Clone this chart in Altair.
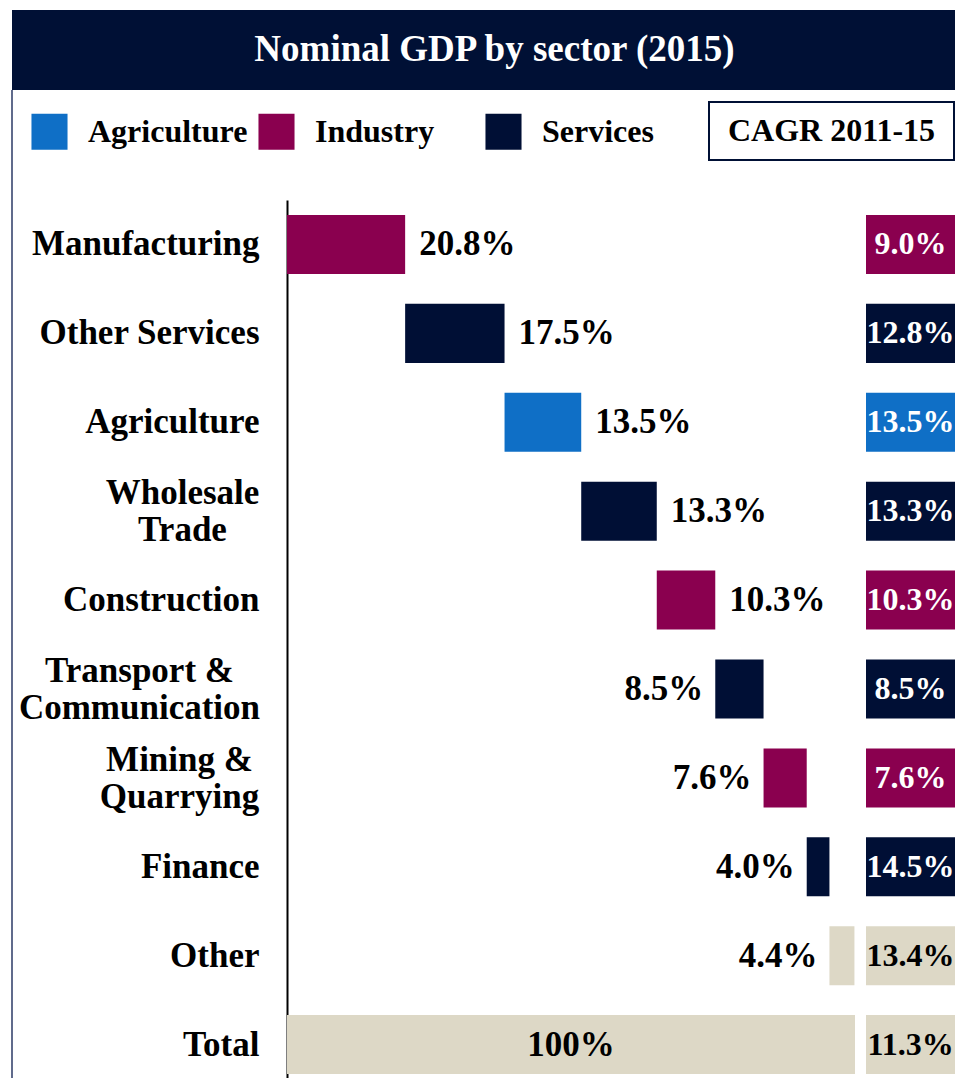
import altair as alt
import pandas as pd

# ---- data ----
sectors = ["Manufacturing", "Other Services", "Agriculture", "Wholesale Trade",
           "Construction", "Transport & Communication", "Mining & Quarrying",
           "Finance", "Other", "Total"]
groups = ["Industry", "Services", "Agriculture", "Services", "Industry",
          "Services", "Industry", "Services", "Other", "Other"]
share = [20.8, 17.5, 13.5, 13.3, 10.3, 8.5, 7.6, 4.0, 4.4, 100.0]
cagr = [9.0, 12.8, 13.5, 13.3, 10.3, 8.5, 7.6, 14.5, 13.4, 11.3]

legend_groups = ["Agriculture", "Industry", "Services"]
group_domain = ["Agriculture", "Industry", "Services", "Other"]
group_colors = ["#0F6FC6", "#8A004F", "#000F35", "#DDD8C6"]

title_text = "Nominal GDP by sector (2015)"
cagr_header = "CAGR 2011-15"

# ---- waterfall table ----
starts, ends = [], []
acc = 0.0
for s, v in zip(sectors, share):
    if s == "Total":
        starts.append(0.0)
        ends.append(v)
    else:
        starts.append(acc)
        acc += v
        ends.append(acc)

df = pd.DataFrame({"sector": sectors, "group": groups, "share": share,
                   "start": starts, "end": ends, "cagr": cagr})

FONT = "Liberation Serif"
NAVY = "#001035"
W, H = 568, 878

base = alt.Chart(df)

multi_test = "indexof(datum.value, '&') >= 0 || indexof(datum.value, 'Wholesale') >= 0"

y = alt.Y("sector:N", sort=sectors,
          scale=alt.Scale(domain=sectors, paddingInner=0.3363, paddingOuter=0.106, align=0.794),
          axis=alt.Axis(title=None, labelFont=FONT, labelFontWeight="bold", labelFontSize=35,
                        labelColor="black", ticks=False, grid=False,
                        domainColor="black", domainWidth=2, labelLimit=400, labelLineHeight=37,
                        labelOffset={"condition": {"test": multi_test, "value": -18}, "value": 0},
                        labelAlign={"condition": {"test": multi_test, "value": "center"}, "value": "right"},
                        labelPadding={"condition": [
                            {"test": "indexof(datum.value, 'Wholesale') >= 0", "value": 105},
                            {"test": "indexof(datum.value, 'Transport') >= 0", "value": 148},
                            {"test": "indexof(datum.value, 'Mining') >= 0", "value": 108},
                        ], "value": 28},
                        labelExpr="split(replace(datum.label, regexp('(&|Wholesale) '), '$1~'), '~')"))

xscale = alt.Scale(domain=[0, 100], nice=False, zero=False)

bars = base.mark_bar().encode(
    y=y,
    x=alt.X("start:Q", scale=xscale, axis=None),
    x2="end:Q",
    color=alt.Color("group:N", scale=alt.Scale(domain=group_domain, range=group_colors),
                    legend=alt.Legend(values=legend_groups, orient="none", legendX=-256, legendY=-87,
                                      direction="horizontal", title=None, symbolType="square",
                                      symbolSize=1300, symbolStrokeWidth=0, symbolOpacity=1,
                                      labelFont=FONT, labelFontSize=32, labelFontWeight="bold",
                                      labelColor="black", labelOffset=20, columnPadding=10,
                                      gridAlign="all", padding=0)),
)

labelled = base.transform_calculate(
    label="datum.sector == 'Total' ? '100%' : format(datum.share, '.1f') + '%'",
    mid="(datum.start + datum.end) / 2",
)

txt_style = dict(font=FONT, fontWeight="bold", fontSize=35, color="black", baseline="middle")

right_labels = labelled.transform_filter("datum.sector != 'Total' && datum.end <= 80").mark_text(
    align="left", dx=14, **txt_style).encode(
    y=alt.Y("sector:N", sort=sectors), x=alt.X("end:Q", scale=xscale), text="label:N")

left_labels = labelled.transform_filter("datum.sector != 'Total' && datum.end > 80").mark_text(
    align="right", dx=-12, **txt_style).encode(
    y=alt.Y("sector:N", sort=sectors), x=alt.X("start:Q", scale=xscale), text="label:N")

total_label = labelled.transform_filter("datum.sector == 'Total'").mark_text(
    align="center", **txt_style).encode(
    y=alt.Y("sector:N", sort=sectors), x=alt.X("mid:Q", scale=xscale), text="label:N")

# ---- CAGR column ----
cagr_boxes = base.mark_rect().encode(
    y=alt.Y("sector:N", sort=sectors),
    x=alt.value(579), x2=alt.value(668),
    color=alt.Color("group:N"),
)
cagr_text = base.transform_calculate(
    clab="format(datum.cagr, '.1f') + '%'").mark_text(
    font=FONT, fontWeight="bold", fontSize=32, align="center", baseline="middle").encode(
    y=alt.Y("sector:N", sort=sectors),
    x=alt.value(623.5),
    text="clab:N",
    color=alt.condition("datum.group == 'Other'", alt.value("black"), alt.value("white")),
)

# ---- header decorations ----
hdr = alt.Chart(pd.DataFrame({"t": [title_text], "c": [cagr_header]}))
title_bar = hdr.mark_rect(color=NAVY).encode(
    x=alt.value(-275), x2=alt.value(668), y=alt.value(-190), y2=alt.value(-110))
title_txt = hdr.mark_text(font=FONT, fontWeight="bold", fontSize=37, color="white",
                          align="center", baseline="middle").encode(
    x=alt.value(207.5), y=alt.value(-150), text="t:N")
cagr_box = hdr.mark_rect(fill="white", stroke=NAVY, strokeWidth=2).encode(
    x=alt.value(422), x2=alt.value(667), y=alt.value(-98), y2=alt.value(-40))
cagr_hdr_txt = hdr.mark_text(font=FONT, fontWeight="bold", fontSize=32, color="black",
                             align="center", baseline="middle").encode(
    x=alt.value(544.5), y=alt.value(-69), text="c:N")
left_border = hdr.mark_rule(color="#2B3A66", strokeWidth=1.5).encode(
    x=alt.value(-275), y=alt.value(-110), y2=alt.value(H))

chart = alt.layer(
    title_bar, title_txt, left_border, cagr_box, cagr_hdr_txt,
    bars, right_labels, left_labels, total_label, cagr_boxes, cagr_text,
).properties(
    width=W, height=H,
    autosize=alt.AutoSizeParams(type="none"),
    padding={"left": 279, "top": 192, "right": 100, "bottom": 0},
    background="white",
).configure_view(stroke=None)

chart.save("out.html", embed_options={"renderer": "svg", "actions": False})
